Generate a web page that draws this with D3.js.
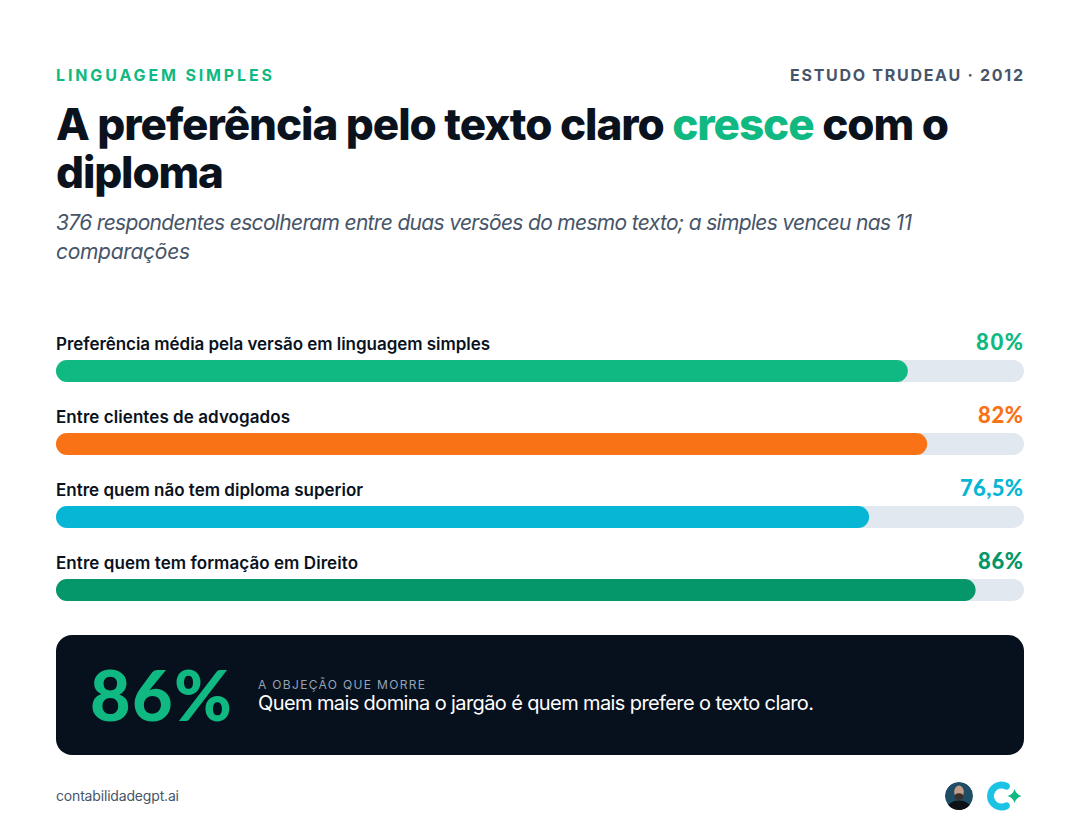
<!DOCTYPE html>
<html>
<head>
<meta charset="utf-8">
<script src="https://cdn.jsdelivr.net/npm/d3@7"></script>
<style>
  html, body { margin: 0; padding: 0; background: #fff; }
  text { font-family: Inter, "Noto Sans", sans-serif; }
</style>
</head>
<body>
<div id="chart"></div>
<script>
// values
const categories = [
  "Preferência média pela versão em linguagem simples",
  "Entre clientes de advogados",
  "Entre quem não tem diploma superior",
  "Entre quem tem formação em Direito"
];
const valueLabels = ["80%", "82%", "76,5%", "86%"];
// the drawn bars are longer than the printed numbers, so lengths are kept apart (% of track)
const barLengths = [88, 90, 84, 95];
const barColors = ["#10b981", "#f97316", "#06b6d4", "#059669"];

const width = 1080, height = 820;
const ink = "#0a121e", slate = "#475569", green = "#10b981";

const svg = d3.select("#chart")
  .append("svg")
  .attr("width", width)
  .attr("height", height)
  .style("display", "block");

const x = d3.scaleLinear().domain([0, 100]).range([56, 1024]);
const y = d3.scalePoint().domain(categories).range([360, 579]);
const barH = 22;

// squeeze or stretch a text to the width it has in the reference
function fit(sel, x0, x1) {
  const n = sel.text().length;
  const len = sel.node().getComputedTextLength();
  sel.attr("x", x0).style("letter-spacing", `${(x1 - x0 - len) / (n - 1)}px`);
  return sel;
}

function label(str, x0, x1, base, size, weight, color, italic, font) {
  const t = svg.append("text")
    .attr("y", base)
    .attr("font-size", size)
    .attr("font-weight", weight)
    .attr("fill", color)
    .text(str);
  if (italic) t.attr("font-style", "italic");
  if (font) t.style("font-family", font);
  return fit(t, x0, x1);
}

// header
label("LINGUAGEM SIMPLES", 56, 272, 81, 16, 700, green);
label("ESTUDO TRUDEAU · 2012", 790, 1023, 81, 16, 700, slate);

const title = svg.append("text")
  .attr("y", 140)
  .attr("font-size", 44)
  .attr("font-weight", 800)
  .attr("fill", ink);
title.append("tspan").text("A preferência pelo texto claro ");
title.append("tspan").attr("fill", green).text("cresce");
title.append("tspan").text(" com o");
fit(title, 56, 949);
label("diploma", 56, 224, 188, 44, 800, ink);

label("376 respondentes escolheram entre duas versões do mesmo texto; a simples venceu nas 11", 56, 912, 230, 21, 400, slate, true);
label("comparações", 56, 190, 259, 21, 400, slate, true);

// bars
categories.forEach((c, i) => {
  svg.append("rect")
    .attr("x", x(0))
    .attr("y", y(c))
    .attr("width", x(100) - x(0))
    .attr("height", barH)
    .attr("rx", barH / 2)
    .attr("fill", "#e2e8f0");
  svg.append("rect")
    .attr("x", x(0))
    .attr("y", y(c))
    .attr("width", x(barLengths[i]) - x(0))
    .attr("height", barH)
    .attr("rx", barH / 2)
    .attr("fill", barColors[i]);
});

const labelEnds = [490, 290, 363, 358];
const valueStarts = [976, 978, 960, 978];
categories.forEach((c, i) => {
  label(c, 56, labelEnds[i], y(c) - 10, 17, 600, ink);
  label(valueLabels[i], valueStarts[i], 1023, y(c) - 10, 22, 900, barColors[i], false, "Lato");
});

// callout
svg.append("rect")
  .attr("x", 56).attr("y", 635)
  .attr("width", 968).attr("height", 120)
  .attr("rx", 16)
  .attr("fill", "#07111d");
label("86%", 90, 232, 721, 70, 900, green, false, "Lato");
label("A OBJEÇÃO QUE MORRE", 258, 425, 689, 12, 400, "#94a3b8");
label("Quem mais domina o jargão é quem mais prefere o texto claro.", 258, 814, 710, 20, 400, "#ffffff");

// footer
label("contabilidadegpt.ai", 56, 179, 801, 14, 400, slate);

// avatar
const avatar = svg.append("g").attr("transform", "translate(959,796)");
avatar.append("clipPath").attr("id", "face")
  .append("circle").attr("r", 14);
const inner = avatar.append("g").attr("clip-path", "url(#face)");
inner.append("circle").attr("r", 14).attr("fill", "#1f4d63");
inner.append("ellipse").attr("cy", 13).attr("rx", 12).attr("ry", 8.5).attr("fill", "#0e1216");
inner.append("ellipse").attr("cy", -4).attr("rx", 4.8).attr("ry", 6.5).attr("fill", "#c49c8a");
inner.append("ellipse").attr("cy", 0.5).attr("rx", 4.2).attr("ry", 3.2).attr("fill", "#3b2f2b");

// logo
const logo = svg.append("g").attr("transform", "translate(1001.5,796)");
logo.append("path")
  .attr("d", d3.arc().innerRadius(7.5).outerRadius(14.5)
    .startAngle(Math.PI * 0.75).endAngle(Math.PI * 2.25).cornerRadius(3.5)())
  .attr("fill", "#1cc3e4");
logo.append("path")
  .attr("d", "M13,-7 Q14.5,-1.5 20,0 Q14.5,1.5 13,7 Q11.5,1.5 6,0 Q11.5,-1.5 13,-7Z")
  .attr("fill", "#10b981");
</script>
</body>
</html>
